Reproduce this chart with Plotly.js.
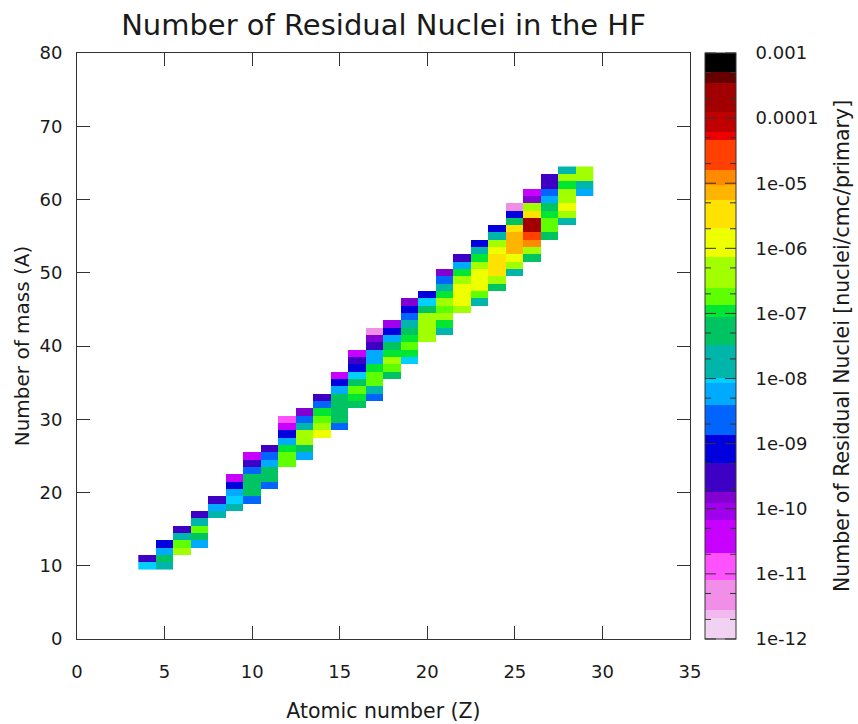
<!DOCTYPE html>
<html>
<head>
<meta charset="utf-8">
<script src="https://cdn.plot.ly/plotly-3.0.1.min.js"></script>
<style>
  html, body { margin: 0; padding: 0; background: #ffffff; }
  #chart { width: 858px; height: 724px; }
</style>
</head>
<body>
<div id="chart"></div>
<script>
// Atomic numbers (Z) shown on the x axis
const atomicNumbers = [4, 5, 6, 7, 8, 9, 10, 11, 12, 13, 14, 15, 16, 17, 18, 19, 20, 21, 22, 23, 24, 25, 26, 27, 28, 29];
// Lowest mass number (A) present for each Z
const firstMass = [10, 10, 12, 13, 17, 18, 19, 21, 24, 25, 28, 29, 32, 33, 36, 38, 41, 42, 45, 46, 48, 50, 52, 55, 57, 61];

// Residual nuclei yields [nuclei/cmc/primary], from lowest A upward, one array per element
const Be = [9.3e-9, 3e-10];
const B  = [2e-8, 5.6e-8, 5.6e-9, 8e-10];
const C  = [4.5e-7, 1.8e-7, 2e-8, 3e-10];
const N  = [5.6e-9, 5.6e-8, 1.8e-7, 2e-8, 3e-10];
const O  = [2e-8, 5.6e-9, 3e-10];
const F  = [2e-8, 9.3e-9, 5.6e-9, 8e-10, 4e-11];
const Ne = [2.2e-9, 5.6e-8, 5.6e-8, 5.6e-8, 2.2e-9, 3e-10, 4e-11];
const Na = [2.2e-9, 5.6e-8, 5.6e-8, 5.6e-9, 2.2e-9, 3e-10];
const Mg = [1.8e-7, 1.8e-7, 1.1e-7, 5.6e-9, 8e-10, 4e-11, 1.3e-11];
const Al = [5.6e-9, 5.6e-8, 4.5e-7, 2.5e-7, 2e-8, 2.2e-9, 1.5e-10];
const Si = [1.3e-6, 6.5e-7, 1.8e-7, 1.1e-7, 2.2e-9, 3e-10];
const P  = [2.2e-9, 5.6e-8, 5.6e-8, 5.6e-8, 5.6e-8, 5.6e-9, 8e-10, 4e-11];
const S  = [5.6e-8, 1.1e-7, 1.8e-7, 5.6e-8, 9.3e-9, 8e-10, 3e-10, 4e-11];
const Cl = [2.2e-9, 2e-8, 1.8e-7, 1.8e-7, 1.1e-7, 5.6e-9, 5.6e-9, 3e-10, 1.5e-10, 5e-12];
const Ar = [5.6e-8, 1.8e-7, 4.5e-7, 1.1e-7, 5.6e-8, 5.6e-9, 8e-10, 9e-11];
const K  = [9.3e-9, 1.1e-7, 1.8e-7, 1.1e-7, 5.6e-8, 2e-8, 2.2e-9, 8e-10, 1.5e-10];
const Ca = [4.5e-7, 4.5e-7, 4.5e-7, 4.5e-7, 5.6e-8, 9.3e-9, 8e-10];
const Sc = [2e-8, 1.1e-7, 4.5e-7, 1.8e-7, 4.5e-7, 1.1e-7, 2e-8, 2.2e-9, 1.5e-10];
const Ti = [4.5e-7, 1.3e-6, 1.3e-6, 1.3e-6, 6.5e-7, 1.1e-7, 5.6e-9, 3e-10];
const V  = [2e-8, 1.8e-7, 1.3e-6, 1.3e-6, 1.3e-6, 4.5e-7, 1.1e-7, 2e-8, 8e-10];
const Cr = [5.6e-8, 4.5e-7, 3.5e-6, 3.5e-6, 3.5e-6, 1.3e-6, 4.5e-7, 2e-8, 8e-10];
const Mn = [2e-8, 4.5e-7, 1.3e-6, 7e-6, 7e-6, 7e-6, 3.5e-6, 5.6e-8, 8e-10, 5e-12];
const Fe = [5.6e-8, 4.5e-7, 1.3e-5, 2.8e-5, 2.5e-4, 1.8e-4, 3.5e-6, 4.5e-7, 1.5e-10, 4e-11];
const Co = [5.6e-8, 1.8e-7, 1.8e-7, 1.1e-7, 5.6e-8, 5.6e-9, 2.2e-9, 3e-10, 3e-10];
const Ni = [2e-8, 4.5e-7, 1.3e-6, 4.5e-7, 4.5e-7, 1.1e-7, 4.5e-7, 2e-8];
const Cu = [5.6e-9, 2e-8, 4.5e-7, 4.5e-7];

// Colour bar tick values and labels
const cbTickValues = [1e-12, 1e-11, 1e-10, 1e-9, 1e-8, 1e-7, 1e-6, 1e-5, 1e-4, 1e-3];
const cbTickLabels = ['1e-12', '1e-11', '1e-10', '1e-09', '1e-08', '1e-07', '1e-06', '1e-05', '0.0001', '0.001'];
const cbMinorFactors = [2, 5];
const cbTitle = 'Number of Residual Nuclei [nuclei/cmc/primary]';

// Discrete palette: upper edge of each band (log10) and its colour
const bandTops = [-11.68, -11.55, -11.09, -10.68, -10.17, -9.91, -9.74, -9.30, -8.87, -8.40, -8.07, -7.99, -7.48, -7.05, -6.87, -6.61, -6.13, -5.69, -5.26, -5.03, -4.80, -4.33, -4.21, -3.90, -3.46, -3.29, -3.0];
const bandColors = ['#f2d2f2', '#f2b9f0', '#f08ee8', '#ff52ff', '#c800ff', '#a000ec', '#8200d2', '#3e00c4', '#0000de', '#0064ff', '#00aaff', '#00d0ff', '#00b6aa', '#00c462', '#00e632', '#5eff00', '#a2ff00', '#eeff00', '#ffe200', '#ffb400', '#ff8a00', '#ff4000', '#ee0000', '#c00000', '#a20000', '#660000', '#000000'];

const elements = [Be, B, C, N, O, F, Ne, Na, Mg, Al, Si, P, S, Cl, Ar, K, Ca, Sc, Ti, V, Cr, Mn, Fe, Co, Ni, Cu];

const LOG_MIN = -12, LOG_MAX = -3;

// Build the heatmap grid (rows = A, columns = Z)
let aMin = Infinity, aMax = -Infinity;
elements.forEach((vals, i) => {
  aMin = Math.min(aMin, firstMass[i]);
  aMax = Math.max(aMax, firstMass[i] + vals.length - 1);
});
const massNumbers = [];
for (let a = aMin; a <= aMax; a++) massNumbers.push(a);
const grid = massNumbers.map(() => atomicNumbers.map(() => null));
elements.forEach((vals, i) => {
  vals.forEach((v, k) => {
    const row = firstMass[i] + k - aMin;
    grid[row][i] = Math.log10(v);
  });
});

// Stepped colour scale
const colorscale = [];
let lo = LOG_MIN;
bandTops.forEach((top, i) => {
  const t0 = (lo - LOG_MIN) / (LOG_MAX - LOG_MIN);
  const t1 = (top - LOG_MIN) / (LOG_MAX - LOG_MIN);
  colorscale.push([Math.max(0, Math.min(1, t0)), bandColors[i]]);
  colorscale.push([Math.max(0, Math.min(1, t1)), bandColors[i]]);
  lo = top;
});

const FONT = 'DejaVu Sans, sans-serif';
const TXT = '#1a1a1a';
const LINE = '#333333';

// Geometry (px) of the plot area and colour bar
const PLOT_L = 77, PLOT_R = 690, BAR_L = 705, BAR_W = 31;
const plotW = PLOT_R - PLOT_L;
const barX0 = (BAR_L - PLOT_L) / plotW;
const barX1 = (BAR_L + BAR_W - PLOT_L) / plotW;

const trace = {
  type: 'heatmap',
  x: atomicNumbers,
  y: massNumbers,
  z: grid,
  zmin: LOG_MIN,
  zmax: LOG_MAX,
  colorscale: colorscale,
  hoverongaps: false,
  colorbar: {
    x: barX0,
    xanchor: 'left',
    y: 0.5,
    yanchor: 'middle',
    len: 1,
    lenmode: 'fraction',
    thickness: BAR_W,
    thicknessmode: 'pixels',
    xpad: 0,
    ypad: 0,
    outlinewidth: 1,
    outlinecolor: LINE,
    tickmode: 'array',
    tickvals: cbTickValues.map(v => Math.log10(v)),
    ticktext: cbTickLabels,
    ticks: 'outside',
    ticklen: 16,
    tickcolor: 'rgba(0,0,0,0)',
    tickfont: { family: FONT, size: 18, color: TXT }
  }
};

// Inward tick marks on both sides of the colour bar (decades + 2x, 5x)
const cbMarks = [];
cbTickValues.forEach(v => {
  cbMarks.push({ v: Math.log10(v), len: 11 });
  if (v < 1e-3) cbMinorFactors.forEach(f => cbMarks.push({ v: Math.log10(v * f), len: 6 }));
});
const tickAnnotations = [];
cbMarks.forEach(m => {
  const yp = (m.v - LOG_MIN) / (LOG_MAX - LOG_MIN);
  [[barX0, m.len], [barX1, -m.len]].forEach(([xp, off]) => {
    tickAnnotations.push({
      xref: 'paper', yref: 'paper', x: xp, y: yp,
      text: '', showarrow: true, arrowhead: 0, arrowwidth: 1, arrowcolor: LINE,
      ax: off, ay: 0, axref: 'pixel', ayref: 'pixel',
      standoff: 0, startstandoff: 0, borderpad: 0, borderwidth: 0
    });
  });
});

const axisCommon = {
  showgrid: false,
  zeroline: false,
  showline: true,
  linecolor: LINE,
  linewidth: 1,
  mirror: 'ticks',
  ticks: 'inside',
  ticklen: 13,
  tickwidth: 1,
  tickcolor: LINE,
  tickfont: { family: FONT, size: 18, color: TXT },
  fixedrange: true
};

const layout = {
  width: 858,
  height: 724,
  margin: { l: PLOT_L, r: 858 - PLOT_R, t: 53, b: 85, pad: 0 },
  paper_bgcolor: '#ffffff',
  plot_bgcolor: '#ffffff',
  font: { family: FONT, color: TXT },
  title: {
    text: 'Number of Residual Nuclei in the HF',
    font: { family: FONT, size: 29, color: TXT },
    x: 0.5,
    xref: 'paper',
    xanchor: 'center',
    y: 0.966,
    yref: 'container',
    yanchor: 'middle'
  },
  xaxis: Object.assign({}, axisCommon, {
    range: [0, 35],
    tickmode: 'array',
    tickvals: [0, 5, 10, 15, 20, 25, 30, 35],
    ticklabelstandoff: 16,
    title: { text: 'Atomic number (Z)', font: { family: FONT, size: 20.5, color: TXT }, standoff: 23 }
  }),
  yaxis: Object.assign({}, axisCommon, {
    range: [0, 80],
    tickmode: 'array',
    tickvals: [0, 10, 20, 30, 40, 50, 60, 70, 80],
    ticklabelstandoff: 10,
    title: { text: 'Number of mass (A)', font: { family: FONT, size: 20, color: TXT }, standoff: 4 }
  }),
  annotations: [{
    text: cbTitle,
    xref: 'paper',
    yref: 'paper',
    x: (842 - PLOT_L) / plotW,
    y: 0.5,
    xanchor: 'center',
    yanchor: 'middle',
    textangle: -90,
    showarrow: false,
    font: { family: FONT, size: 20.5, color: TXT }
  }].concat(tickAnnotations)
};

Plotly.newPlot('chart', [trace], layout, { displayModeBar: false, responsive: false, staticPlot: true });
</script>
</body>
</html>
